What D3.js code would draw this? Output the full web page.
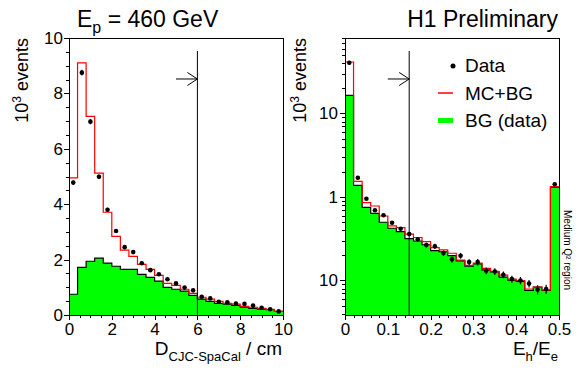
<!DOCTYPE html>
<html>
<head>
<meta charset="utf-8">
<script src="https://cdn.jsdelivr.net/npm/d3@7/dist/d3.min.js"></script>
<style>
  body { margin: 0; background: #fff; }
  svg { font-family: 'Liberation Sans', Arial, sans-serif; }
</style>
</head>
<body>
<div id="container"></div>
<script>
const w = 584,
  h = 375;

// left panel: D_CJC-SpaCal, bins of 0.4 cm (lower edges), values in 10^3 events
const dBinWidth = 0.4;
const dBins = [0, 0.4, 0.8, 1.2, 1.6, 2.0, 2.4, 2.8, 3.2, 3.6, 4.0, 4.4, 4.8,
  5.2, 5.6, 6.0, 6.4, 6.8, 7.2, 7.6, 8.0, 8.4, 8.8, 9.2, 9.6];
const dData = [4.78, 8.75, 6.98, 4.99, 3.80, 3.03, 2.45, 2.27, 1.87, 1.62, 1.47,
  1.29, 1.14, 0.99, 0.89, 0.66, 0.60, 0.48, 0.46, 0.41, 0.40, 0.34, 0.26, 0.21, 0.13];
const dErr = [0.08, 0.1, 0.09, 0.08, 0.07, 0.06, 0.06, 0.06, 0.05, 0.05, 0.05,
  0.05, 0.04, 0.04, 0.04, 0.04, 0.04, 0.03, 0.03, 0.03, 0.03, 0.03, 0.03, 0.02, 0.02];
const dMC = [4.95, 9.10, 7.17, 5.12, 3.71, 2.84, 2.34, 2.12, 1.83, 1.65, 1.43,
  1.14, 1.07, 0.93, 0.78, 0.64, 0.57, 0.49, 0.42, 0.39, 0.31, 0.28, 0.24, 0.20, 0.13];
const dBG = [0.75, 1.72, 1.94, 2.05, 1.87, 1.76, 1.65, 1.65, 1.47, 1.36, 1.22,
  1.00, 0.93, 0.86, 0.71, 0.57, 0.49, 0.42, 0.39, 0.35, 0.28, 0.24, 0.21, 0.19, 0.13];
const dCut = 6, dArrowFrom = 5;

// right panel: Eh/Ee, bins of 0.02 (lower edges), log scale
const eBinWidth = 0.02;
const eBins = [0, 0.02, 0.04, 0.06, 0.08, 0.10, 0.12, 0.14, 0.16, 0.18, 0.20,
  0.22, 0.24, 0.26, 0.28, 0.30, 0.32, 0.34, 0.36, 0.38, 0.40, 0.42, 0.44, 0.46, 0.48];
const eData = [40.6, 1.70, 0.954, 0.693, 0.604, 0.492, 0.417, 0.360, 0.312, 0.266,
  0.257, 0.213, 0.179, 0.198, 0.166, 0.166, 0.131, 0.128, 0.117, 0.104, 0.100,
  0.0918, 0.0778, 0.079, 1.42];
const eErr = [0.56, 0.047, 0.026, 0.023, 0.022, 0.020, 0.020, 0.020, 0.017, 0.017,
  0.018, 0.016, 0.015, 0.016, 0.014, 0.015, 0.012, 0.012, 0.011, 0.010, 0.010,
  0.0094, 0.0097, 0.010, 0.04];
const eMC = [41.4, 1.54, 0.855, 0.780, 0.592, 0.450, 0.429, 0.360, 0.327, 0.292,
  0.248, 0.232, 0.212, 0.176, 0.152, 0.161, 0.140, 0.129, 0.116, 0.104, 0.100,
  0.0791, 0.0832, 0.077, 1.33];
const eBG = [16.5, 1.38, 0.753, 0.638, 0.498, 0.422, 0.384, 0.318, 0.297, 0.268,
  0.228, 0.221, 0.198, 0.172, 0.148, 0.158, 0.134, 0.127, 0.110, 0.101, 0.0973,
  0.0761, 0.0832, 0.0763, 1.31];
const eCut = 0.15, eArrowFrom = 0.1;

// ticks
const dMajor = [0, 2, 4, 6, 8, 10];
const dMinor = d3.range(0, 10.01, 0.5);
const eMajor = [0, 0.1, 0.2, 0.3, 0.4, 0.5];
const eMinor = d3.range(0, 0.5001, 0.02);
const logMajor = [0.1, 1, 10];
const logLabels = ['10', '1', '10'];
const logMinor = [0.04, 0.05, 0.06, 0.07, 0.08, 0.09, 0.2, 0.3, 0.4, 0.5, 0.6, 0.7,
  0.8, 0.9, 2, 3, 4, 5, 6, 7, 8, 9, 20, 30, 40, 50, 60, 70, 80];

const plotTop = 38, plotBottom = 315;
const green = '#00ff00', red = '#ff0000';

const svg = d3.select('#container').append('svg').attr('width', w).attr('height', h);

function stepPoints(bins, vals, bw) {
  const pts = bins.map((b, i) => [b, vals[i]]);
  pts.push([bins[bins.length - 1] + bw, vals[vals.length - 1]]);
  return pts;
}

function drawPanel(opt) {
  const x = opt.x, y = opt.y;
  const g = svg.append('g');

  const pts = (vals) => stepPoints(opt.bins, vals, opt.bw);

  g.append('path')
    .datum(pts(opt.bg))
    .attr('fill', green)
    .attr('d', d3.area().curve(d3.curveStepAfter)
      .x((d) => x(d[0])).y0(plotBottom).y1((d) => y(d[1])));

  g.append('path')
    .datum(pts(opt.bg))
    .attr('fill', 'none')
    .attr('stroke', 'black')
    .attr('stroke-width', 1.2)
    .attr('d', d3.line().curve(d3.curveStepAfter).x((d) => x(d[0])).y((d) => y(d[1])));

  g.append('path')
    .datum(pts(opt.mc))
    .attr('fill', 'none')
    .attr('stroke', red)
    .attr('stroke-width', 1.2)
    .attr('d', d3.line().curve(d3.curveStepAfter).x((d) => x(d[0])).y((d) => y(d[1])));

  // data points with errors
  const pg = g.append('g');
  opt.bins.forEach((b, i) => {
    const cx = x(b + opt.bw / 2);
    pg.append('line')
      .attr('x1', cx).attr('x2', cx)
      .attr('y1', y(opt.data[i] + opt.err[i]))
      .attr('y2', y(Math.max(opt.data[i] - opt.err[i], 1e-3)))
      .attr('stroke', 'black')
      .attr('stroke-width', 1.2);
    pg.append('circle')
      .attr('cx', cx)
      .attr('cy', y(opt.data[i]))
      .attr('r', 2.3)
      .attr('fill', 'black');
  });

  // cut line and arrow
  const cx = x(opt.cut);
  g.append('line')
    .attr('x1', cx).attr('x2', cx)
    .attr('y1', y(opt.cutTop)).attr('y2', plotBottom)
    .attr('stroke', 'black');
  const ay = y(opt.arrowY);
  g.append('path')
    .attr('d', 'M' + x(opt.arrowFrom) + ',' + ay + 'H' + cx +
      'M' + (cx - 10) + ',' + (ay - 6.5) + 'L' + cx + ',' + ay + 'L' + (cx - 10) + ',' + (ay + 6.5))
    .attr('fill', 'none')
    .attr('stroke', 'black');

  // frame
  g.append('rect')
    .attr('x', x.range()[0]).attr('y', plotTop)
    .attr('width', x.range()[1] - x.range()[0])
    .attr('height', plotBottom - plotTop)
    .attr('fill', 'none')
    .attr('stroke', 'black')
    .attr('shape-rendering', 'crispEdges');

  // axes
  const xMinorAxis = g.append('g')
    .attr('transform', 'translate(0,' + plotBottom + ')')
    .call(d3.axisBottom(x).tickValues(opt.xMinor).tickSize(3).tickFormat(''));
  const xAxis = g.append('g')
    .attr('transform', 'translate(0,' + plotBottom + ')')
    .call(d3.axisBottom(x).tickValues(opt.xMajor).tickSize(5).tickPadding(3)
      .tickFormat(opt.xFormat));
  const yMinorAxis = g.append('g')
    .attr('transform', 'translate(' + x.range()[0] + ',0)')
    .call(d3.axisLeft(y).tickValues(opt.yMinor).tickSize(3).tickFormat(''));
  const yAxis = g.append('g')
    .attr('transform', 'translate(' + x.range()[0] + ',0)')
    .call(d3.axisLeft(y).tickValues(opt.yMajor).tickSize(5).tickPadding(opt.yPad)
      .tickFormat(opt.yFormat));

  [xMinorAxis, xAxis, yMinorAxis, yAxis].forEach((a) => {
    a.select('.domain').remove();
    a.selectAll('line').attr('shape-rendering', 'crispEdges');
    a.selectAll('text')
      .attr('font-family', "'Liberation Sans', Arial, sans-serif")
      .attr('font-size', 17)
      .attr('fill', 'black');
  });

  // y title
  const yt = svg.append('text')
    .attr('transform', 'translate(' + opt.yTitleX + ',' + plotTop + ') rotate(-90)')
    .attr('text-anchor', 'end')
    .attr('font-size', 18);
  yt.append('tspan').text('10');
  yt.append('tspan').attr('font-size', 12).attr('dy', -7).text('3');
  yt.append('tspan').attr('dy', 7).text(' events');
}

const xD = d3.scaleLinear().domain([0, 10]).range([69, 283]);
const yD = d3.scaleLinear().domain([0, 10]).range([plotBottom, plotTop]);

drawPanel({
  x: xD, y: yD, bins: dBins, bw: dBinWidth,
  data: dData, err: dErr, mc: dMC, bg: dBG,
  cut: dCut, arrowFrom: dArrowFrom, cutTop: 9.53, arrowY: 8.52,
  xMajor: dMajor, xMinor: dMinor, xFormat: d3.format('d'),
  yMajor: dMajor, yMinor: dMinor, yFormat: d3.format('d'), yPad: 1,
  yTitleX: 28
});

const xE = d3.scaleLinear().domain([0, 0.5]).range([345, 559]);
const yE = d3.scaleLog().domain([0.0386, 80.2]).range([plotBottom, plotTop]);

drawPanel({
  x: xE, y: yE, bins: eBins, bw: eBinWidth,
  data: eData, err: eErr, mc: eMC, bg: eBG,
  cut: eCut, arrowFrom: eArrowFrom, cutTop: 56.1, arrowY: 25.9,
  xMajor: eMajor, xMinor: eMinor, xFormat: (d) => (d === 0 ? '0' : d3.format('.1f')(d)),
  yMajor: logMajor, yMinor: logMinor, yFormat: (d, i) => logLabels[i], yPad: 2,
  yTitleX: 306
});

// titles
const t1 = svg.append('text').attr('x', 77).attr('y', 27).attr('font-size', 23);
t1.append('tspan').text('E');
t1.append('tspan').attr('font-size', 16).attr('dy', 6).text('p');
t1.append('tspan').attr('dy', -6).text(' = 460 GeV');

svg.append('text')
  .attr('x', 558).attr('y', 27)
  .attr('text-anchor', 'end')
  .attr('font-size', 23)
  .text('H1 Preliminary');

// x titles
const xt1 = svg.append('text').attr('x', 282).attr('y', 355)
  .attr('text-anchor', 'end').attr('font-size', 19);
xt1.append('tspan').text('D');
xt1.append('tspan').attr('font-size', 13).attr('dy', 6).text('CJC-SpaCal');
xt1.append('tspan').attr('dy', -6).text(' / cm');

const xt2 = svg.append('text').attr('x', 558).attr('y', 355)
  .attr('text-anchor', 'end').attr('font-size', 19);
xt2.append('tspan').text('E');
xt2.append('tspan').attr('font-size', 13).attr('dy', 6).text('h');
xt2.append('tspan').attr('dy', -6).text('/E');
xt2.append('tspan').attr('font-size', 13).attr('dy', 6).text('e');

// legend
const legend = svg.append('g').attr('font-size', 19);
legend.append('circle').attr('cx', 453).attr('cy', 66).attr('r', 2.5).attr('fill', 'black');
legend.append('text').attr('x', 465).attr('y', 72).text('Data');
legend.append('line')
  .attr('x1', 438).attr('x2', 453).attr('y1', 93).attr('y2', 93)
  .attr('stroke', red).attr('stroke-width', 1.5);
legend.append('text').attr('x', 465).attr('y', 100).text('MC+BG');
legend.append('rect')
  .attr('x', 438).attr('y', 118).attr('width', 15).attr('height', 5)
  .attr('fill', green);
legend.append('text').attr('x', 465).attr('y', 127).text('BG (data)');

svg.append('text')
  .attr('transform', 'translate(564,210) rotate(90)')
  .attr('font-size', 10)
  .text('Medium Q\u00b2 region');
</script>
</body>
</html>
